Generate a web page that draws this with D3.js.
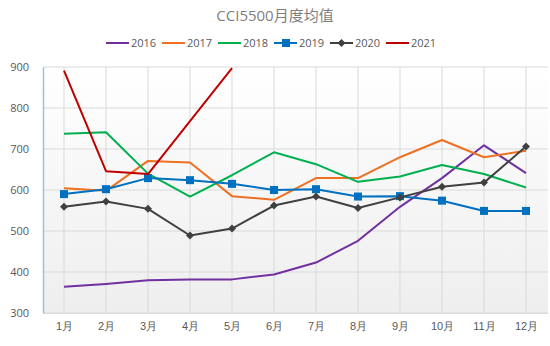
<!DOCTYPE html>
<html><head><meta charset="utf-8">
<script src="https://cdn.jsdelivr.net/npm/d3@7"></script>
<style>body{margin:0;background:#fff}svg{display:block;font-family:"Open Sans","Noto Sans CJK SC",sans-serif}</style>
</head><body><svg id="c" width="550" height="346"></svg>
<script>
const months = ["1月","2月","3月","4月","5月","6月","7月","8月","9月","10月","11月","12月"];
const yTicks = [300,400,500,600,700,800,900];
const s2016 = [364,371,380,382,382,394,423,476,559,629,709,641];
const s2017 = [604,598,671,667,585,576,629,629,680,722,680,696];
const s2018 = [737,741,640,584,636,692,663,620,633,661,639,606];
const s2019 = [590,602,629,624,615,600,602,584,585,574,549,549];
const s2020 = [559,572,554,489,506,562,584,556,582,608,618,706];
const s2021 = [891,646,639,768,897];
const seriesNames = ["2016","2017","2018","2019","2020","2021"];
const seriesColors = ["#7030a0","#ee7020","#00b050","#0070c0","#404040","#c00000"];
const seriesMarkers = ["none","none","none","square","diamond","none"];
const seriesData = [s2016,s2017,s2018,s2019,s2020,s2021];

const svg = d3.select("#c");
const L = 43, R = 547, T = 67, B = 313;
const x = d3.scalePoint().domain(months).range([L, R]).padding(0.5);
const y = d3.scaleLinear().domain([300, 900]).range([B, T]);

const defs = svg.append("defs");
const g = defs.append("linearGradient").attr("id","bg").attr("x1",0).attr("y1",0).attr("x2",0).attr("y2",1);
g.append("stop").attr("offset","0%").attr("stop-color","#ffffff");
g.append("stop").attr("offset","100%").attr("stop-color","#eeeeee");
svg.append("rect").attr("x",L).attr("y",T).attr("width",R-L+1).attr("height",B-T).attr("fill","url(#bg)");

// title
svg.append("text").attr("x",275).attr("y",21).attr("text-anchor","middle")
  .attr("font-size",15).attr("fill","#808080").text("CCI5500月度均值");

// gridlines
svg.append("g").selectAll("line").data(yTicks).join("line")
  .attr("x1",L).attr("x2",R+1).attr("y1",d=>y(d)).attr("y2",d=>y(d))
  .attr("stroke","#d9d9d9").attr("stroke-width",1.2);
svg.append("g").selectAll("line").data(months).join("line")
  .attr("x1",d=>x(d)).attr("x2",d=>x(d)).attr("y1",T).attr("y2",B)
  .attr("stroke","#d9d9d9").attr("stroke-width",1);

// axes
const ya = svg.append("g").attr("transform",`translate(${L},0)`)
  .call(d3.axisLeft(y).tickValues(yTicks).tickSize(0).tickPadding(14));
ya.select(".domain").attr("stroke","#9dbde6").attr("stroke-width",1.5);
ya.selectAll("text").attr("font-size",11).attr("fill","#595959").attr("font-family","Open Sans");
const xa = svg.append("g").attr("transform",`translate(0,${B})`)
  .call(d3.axisBottom(x).tickSize(0).tickPadding(9));
xa.select(".domain").attr("stroke","#d9d9d9");
xa.selectAll("text").attr("font-size",11).attr("fill","#595959");

// lines
const diamond = "M0,-4L4,0L0,4L-4,0Z";
const line = d3.line().x((d,i)=>x(months[i])).y(d=>y(d));
seriesData.forEach((data,k)=>{
  svg.append("path").datum(data).attr("d",line).attr("fill","none")
    .attr("stroke",seriesColors[k]).attr("stroke-width",2).attr("stroke-linejoin","round");
  if (seriesMarkers[k]==="square") {
    svg.append("g").selectAll("rect").data(data).join("rect")
      .attr("x",(d,i)=>x(months[i])-4).attr("y",d=>y(d)-4).attr("width",8).attr("height",8)
      .attr("fill",seriesColors[k]);
  } else if (seriesMarkers[k]==="diamond") {
    svg.append("g").selectAll("path").data(data).join("path")
      .attr("d",diamond)
      .attr("transform",(d,i)=>`translate(${x(months[i])},${y(d)})`)
      .attr("fill",seriesColors[k]);
  }
});

// legend
const leg = svg.append("g");
seriesNames.forEach((n,k)=>{
  const lx = 106 + k*56, ly = 43;
  leg.append("line").attr("x1",lx).attr("x2",lx+23).attr("y1",ly).attr("y2",ly)
    .attr("stroke",seriesColors[k]).attr("stroke-width",2);
  if (seriesMarkers[k]==="square") leg.append("rect").attr("x",lx+8).attr("y",ly-4).attr("width",8).attr("height",8).attr("fill",seriesColors[k]);
  if (seriesMarkers[k]==="diamond") leg.append("path").attr("d",diamond).attr("transform",`translate(${lx+11.5},${ly})`).attr("fill",seriesColors[k]);
  leg.append("text").attr("x",lx+25).attr("y",ly+4).attr("font-size",11).attr("fill","#595959").text(n);
});
</script></body></html>
